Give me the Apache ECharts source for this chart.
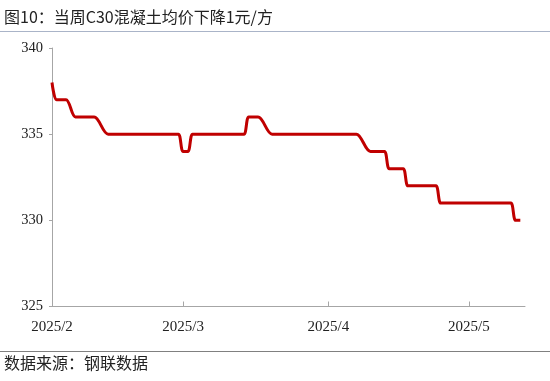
<!DOCTYPE html>
<html>
<head>
<meta charset="utf-8">
<script src="https://cdn.jsdelivr.net/npm/echarts@6/dist/echarts.min.js"></script>
<style>
html,body{margin:0;padding:0;background:#fff;}
#c{width:550px;height:381px;}
</style>
</head>
<body>
<div id="c"></div>
<script>
var titleText = '图10：当周C30混凝土均价下降1元/方';
var sourceText = '数据来源：钢联数据';
var tickLabels = ['2025/2', '2025/3', '2025/4', '2025/5'];
var axisMin = '2025-02-01';
var axisMax = '2025-05-13';
var yTicks = [325, 330, 335, 340];

var dates = [
 '2025-02-01','2025-02-02','2025-02-03','2025-02-04',
 '2025-02-06','2025-02-07','2025-02-08','2025-02-09','2025-02-10',
 '2025-02-13','2025-02-14','2025-02-15','2025-02-16','2025-02-17','2025-02-18','2025-02-19','2025-02-20',
 '2025-02-21','2025-02-22','2025-02-23','2025-02-24','2025-02-25','2025-02-26','2025-02-27','2025-02-28',
 '2025-03-01','2025-03-02',
 '2025-03-03','2025-03-04','2025-03-05','2025-03-06','2025-03-07','2025-03-08','2025-03-09','2025-03-10',
 '2025-03-11','2025-03-12','2025-03-13','2025-03-14',
 '2025-03-15','2025-03-16','2025-03-17',
 '2025-03-20','2025-03-21','2025-03-22','2025-03-23','2025-03-24','2025-03-25','2025-03-26','2025-03-27',
 '2025-03-28','2025-03-29','2025-03-30','2025-03-31','2025-04-01','2025-04-02','2025-04-03','2025-04-04',
 '2025-04-05','2025-04-06','2025-04-07',
 '2025-04-10','2025-04-11','2025-04-12','2025-04-13',
 '2025-04-14','2025-04-15','2025-04-16','2025-04-17',
 '2025-04-18','2025-04-19','2025-04-20','2025-04-21','2025-04-22','2025-04-23','2025-04-24',
 '2025-04-25','2025-04-26','2025-04-27','2025-04-28','2025-04-29','2025-04-30','2025-05-01','2025-05-02',
 '2025-05-03','2025-05-04','2025-05-05','2025-05-06','2025-05-07','2025-05-08','2025-05-09','2025-05-10',
 '2025-05-11','2025-05-12'
];
var prices = [
 338,337,337,337,
 336,336,336,336,336,
 335,335,335,335,335,335,335,335,
 335,335,335,335,335,335,335,335,
 334,334,
 335,335,335,335,335,335,335,335,
 335,335,335,335,
 336,336,336,
 335,335,335,335,335,335,335,335,
 335,335,335,335,335,335,335,335,
 335,335,335,
 334,334,334,334,
 333,333,333,333,
 332,332,332,332,332,332,332,
 331,331,331,331,331,331,331,331,
 331,331,331,331,331,331,331,331,
 330,330
];

function toTs(s) {
  var p = s.split('-');
  return new Date(+p[0], +p[1] - 1, +p[2]).getTime();
}
function labelTs(l) {
  var p = l.split('/');
  return new Date(+p[0], +p[1] - 1, 1).getTime();
}
var tickValues = tickLabels.map(labelTs);
var seriesData = dates.map(function (d, i) { return [toTs(d), prices[i]]; });

var chart = echarts.init(document.getElementById('c'), null, {renderer: 'canvas'});
chart.setOption({
  backgroundColor: '#ffffff',
  animation: false,
  grid: {left: 52, right: 25, top: 48, bottom: 74.5},
  xAxis: {
    type: 'value',
    min: toTs(axisMin),
    max: toTs(axisMax),
    axisLine: {show: true, lineStyle: {color: '#a6a6a6', width: 1}},
    axisTick: {show: true, inside: true, length: 5, customValues: tickValues, lineStyle: {color: '#a6a6a6'}},
    splitLine: {show: false},
    axisLabel: {
      customValues: tickValues,
      margin: 13,
      fontFamily: 'Liberation Serif',
      fontSize: 15,
      color: '#222',
      formatter: function (v) {
        var i = tickValues.indexOf(v);
        return i >= 0 ? tickLabels[i] : '';
      }
    }
  },
  yAxis: {
    type: 'value',
    min: yTicks[0],
    max: yTicks[yTicks.length - 1],
    interval: 5,
    axisLine: {show: true, lineStyle: {color: '#a6a6a6', width: 1}},
    axisTick: {show: true, inside: false, length: 3, lineStyle: {color: '#a6a6a6'}},
    splitLine: {show: false},
    axisLabel: {
      margin: 9,
      fontFamily: 'Liberation Serif',
      fontSize: 14.5,
      color: '#222'
    }
  },
  series: [{
    type: 'line',
    data: seriesData,
    smooth: 0.35,
    showSymbol: false,
    lineStyle: {color: '#c00000', width: 3},
    itemStyle: {color: '#c00000'}
  }],
  graphic: [
    {type: 'text', left: 4, top: 9,
     style: {text: titleText, font: '16px "Noto Sans CJK SC"', fill: '#222'}},
    {type: 'line', shape: {x1: 0, y1: 31.5, x2: 550, y2: 31.5},
     style: {stroke: '#aab4c8', lineWidth: 1}},
    {type: 'line', shape: {x1: 0, y1: 351.5, x2: 550, y2: 351.5},
     style: {stroke: '#808080', lineWidth: 1}},
    {type: 'text', left: 4, top: 355,
     style: {text: sourceText, font: '16px "Noto Sans CJK SC"', fill: '#222'}}
  ]
});
</script>
</body>
</html>
